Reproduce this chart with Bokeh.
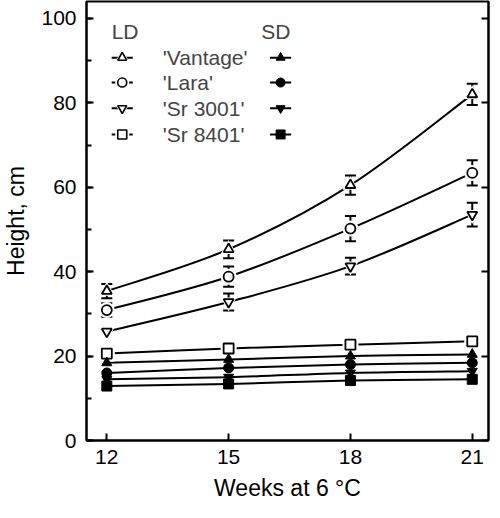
import numpy as np
from bokeh.plotting import figure
from bokeh.models import (Range1d, LinearAxis, SingleIntervalTicker, FixedTicker,
                          Label, Whisker, ColumnDataSource, TeeHead)
from bokeh.embed import file_html
from bokeh.resources import INLINE

# ---------------- data ----------------
weeks = [12, 15, 18, 21]
cultivars = ["'Vantage'", "'Lara'", "'Sr 3001'", "'Sr 8401'"]
markers = ["triangle", "circle", "inverted_triangle", "square"]

ld_vantage = [35.4, 45.3, 60.5, 82.0]
ld_vantage_err = [1.7, 2.1, 2.3, 2.5]
ld_lara = [30.9, 38.8, 50.2, 63.4]
ld_lara_err = [1.6, 2.4, 3.0, 3.0]
ld_sr3001 = [25.8, 32.8, 41.3, 53.5]
ld_sr3001_err = [0.0, 2.0, 2.0, 2.8]
ld_sr8401 = [20.6, 21.8, 22.7, 23.5]
ld_sr8401_err = [0.0, 0.0, 0.0, 0.0]

sd_vantage = [18.4, 19.2, 20.0, 20.4]
sd_lara = [16.0, 17.2, 18.0, 18.4]
sd_sr3001 = [14.5, 15.0, 16.0, 16.4]
sd_sr8401 = [12.9, 13.4, 14.2, 14.5]

x_ticks = [12, 15, 18, 21]
y_tick_interval = 20

ld_series = [ld_vantage, ld_lara, ld_sr3001, ld_sr8401]
ld_errors = [ld_vantage_err, ld_lara_err, ld_sr3001_err, ld_sr8401_err]
sd_series = [sd_vantage, sd_lara, sd_sr3001, sd_sr8401]

FONT = "Liberation Sans"

p = figure(width=492, height=510, x_range=Range1d(11.5, 21.4), y_range=Range1d(0, 104),
           output_backend="svg", toolbar_location=None,
           min_border_left=75, min_border_right=2, min_border_top=1, min_border_bottom=70)
p.xgrid.visible = False
p.ygrid.visible = False
p.outline_line_color = "black"
p.outline_line_width = 2
p.background_fill_color = "white"
p.border_fill_color = "white"

# axes
p.xaxis.ticker = FixedTicker(ticks=x_ticks)
p.yaxis.ticker = SingleIntervalTicker(interval=y_tick_interval, num_minor_ticks=2)
for ax in (p.xaxis[0], p.yaxis[0]):
    ax.axis_line_width = 2
    ax.major_tick_line_width = 2
    ax.minor_tick_line_width = 2
    ax.major_tick_in = 7
    ax.major_tick_out = 0
    ax.minor_tick_in = 5
    ax.minor_tick_out = 0
    ax.major_label_text_font = FONT
    ax.major_label_text_font_size = "21px"
    ax.major_label_text_color = "black"
    ax.axis_label_text_font = FONT
    ax.axis_label_text_font_size = "23px"
    ax.axis_label_text_font_style = "normal"
    ax.axis_label_text_color = "black"
p.xaxis.minor_tick_line_color = None
p.xaxis.major_label_standoff = 9
p.yaxis.major_label_standoff = 10
p.xaxis.axis_label = "Weeks at 6 °C"
p.yaxis.axis_label = "Height, cm"
p.xaxis.axis_label_standoff = 8
p.yaxis.axis_label_standoff = 9

rax = LinearAxis(ticker=SingleIntervalTicker(interval=y_tick_interval, num_minor_ticks=2))
rax.major_label_text_color = None
rax.major_label_text_font_size = "0px"
rax.axis_line_width = 2
rax.major_tick_line_width = 2
rax.major_tick_in = 7
rax.major_tick_out = 0
rax.minor_tick_line_color = None
p.add_layout(rax, "right")


def catmull_segments(xs, ys):
    P = np.column_stack([xs, ys]).astype(float)
    n = len(P)
    out = {k: [] for k in ("x0", "y0", "x1", "y1", "cx0", "cy0", "cx1", "cy1")}
    for i in range(n - 1):
        p0 = P[max(i - 1, 0)]
        p1 = P[i]
        p2 = P[i + 1]
        p3 = P[min(i + 2, n - 1)]
        c1 = p1 + (p2 - p0) / 6.0
        c2 = p2 - (p3 - p1) / 6.0
        out["x0"].append(p1[0]); out["y0"].append(p1[1])
        out["x1"].append(p2[0]); out["y1"].append(p2[1])
        out["cx0"].append(c1[0]); out["cy0"].append(c1[1])
        out["cx1"].append(c2[0]); out["cy1"].append(c2[1])
    return out


# lines
for ys in ld_series + sd_series:
    seg = catmull_segments(weeks, ys)
    p.bezier(line_color="black", line_width=2, **seg)

MS = 10
# halos for LD markers (gap between line and marker)
for ys, mk in zip(ld_series, markers):
    p.scatter(weeks, ys, marker=mk, size=MS + 6, fill_color="white", line_color=None)

# error bars
for ys, es in zip(ld_series, ld_errors):
    xs = [w for w, e in zip(weeks, es) if e > 0]
    lo = [y - e for y, e in zip(ys, es) if e > 0]
    hi = [y + e for y, e in zip(ys, es) if e > 0]
    if xs:
        src = ColumnDataSource(dict(x=xs, lo=lo, hi=hi))
        w = Whisker(source=src, base="x", lower="lo", upper="hi", line_color="black", line_width=2,
                    upper_head=TeeHead(size=11, line_width=2, line_color="black"),
                    lower_head=TeeHead(size=11, line_width=2, line_color="black"))
        p.add_layout(w)

# markers
for ys, mk in zip(ld_series, markers):
    p.scatter(weeks, ys, marker=mk, size=MS, fill_color="white", line_color="black", line_width=1.8)
for ys, mk in zip(sd_series, markers):
    p.scatter(weeks, ys, marker=mk, size=MS, fill_color="black", line_color="black", line_width=1)

# ---------------- legend (layout) ----------------
ld_sym_x = 12.38
sd_sym_x = 16.28
half = 0.26
text_x = 13.38
row_y = [90.7, 84.8, 78.7, 72.5]
head_y = 97.0
LEG_FS = "21px"

p.add_layout(Label(x=12.45, y=head_y, text="LD", text_font=FONT, text_font_size=LEG_FS,
                   text_align="center", text_baseline="middle"))
p.add_layout(Label(x=16.16, y=head_y, text="SD", text_font=FONT, text_font_size=LEG_FS,
                   text_align="center", text_baseline="middle"))
for name, mk, yy in zip(cultivars, markers, row_y):
    p.segment(x0=[ld_sym_x - half, sd_sym_x - half], y0=[yy, yy],
              x1=[ld_sym_x + half, sd_sym_x + half], y1=[yy, yy], line_color="black", line_width=2)
    p.scatter([ld_sym_x], [yy], marker=mk, size=MS + 4, fill_color="white", line_color=None)
    p.scatter([ld_sym_x], [yy], marker=mk, size=MS - 1, fill_color="white", line_color="black", line_width=1.6)
    p.scatter([sd_sym_x], [yy], marker=mk, size=MS - 1, fill_color="black", line_color="black")
    p.add_layout(Label(x=text_x, y=yy, text=name, text_font=FONT, text_font_size=LEG_FS,
                       text_align="left", text_baseline="middle"))

open("out.html", "w").write(file_html(p, INLINE))
